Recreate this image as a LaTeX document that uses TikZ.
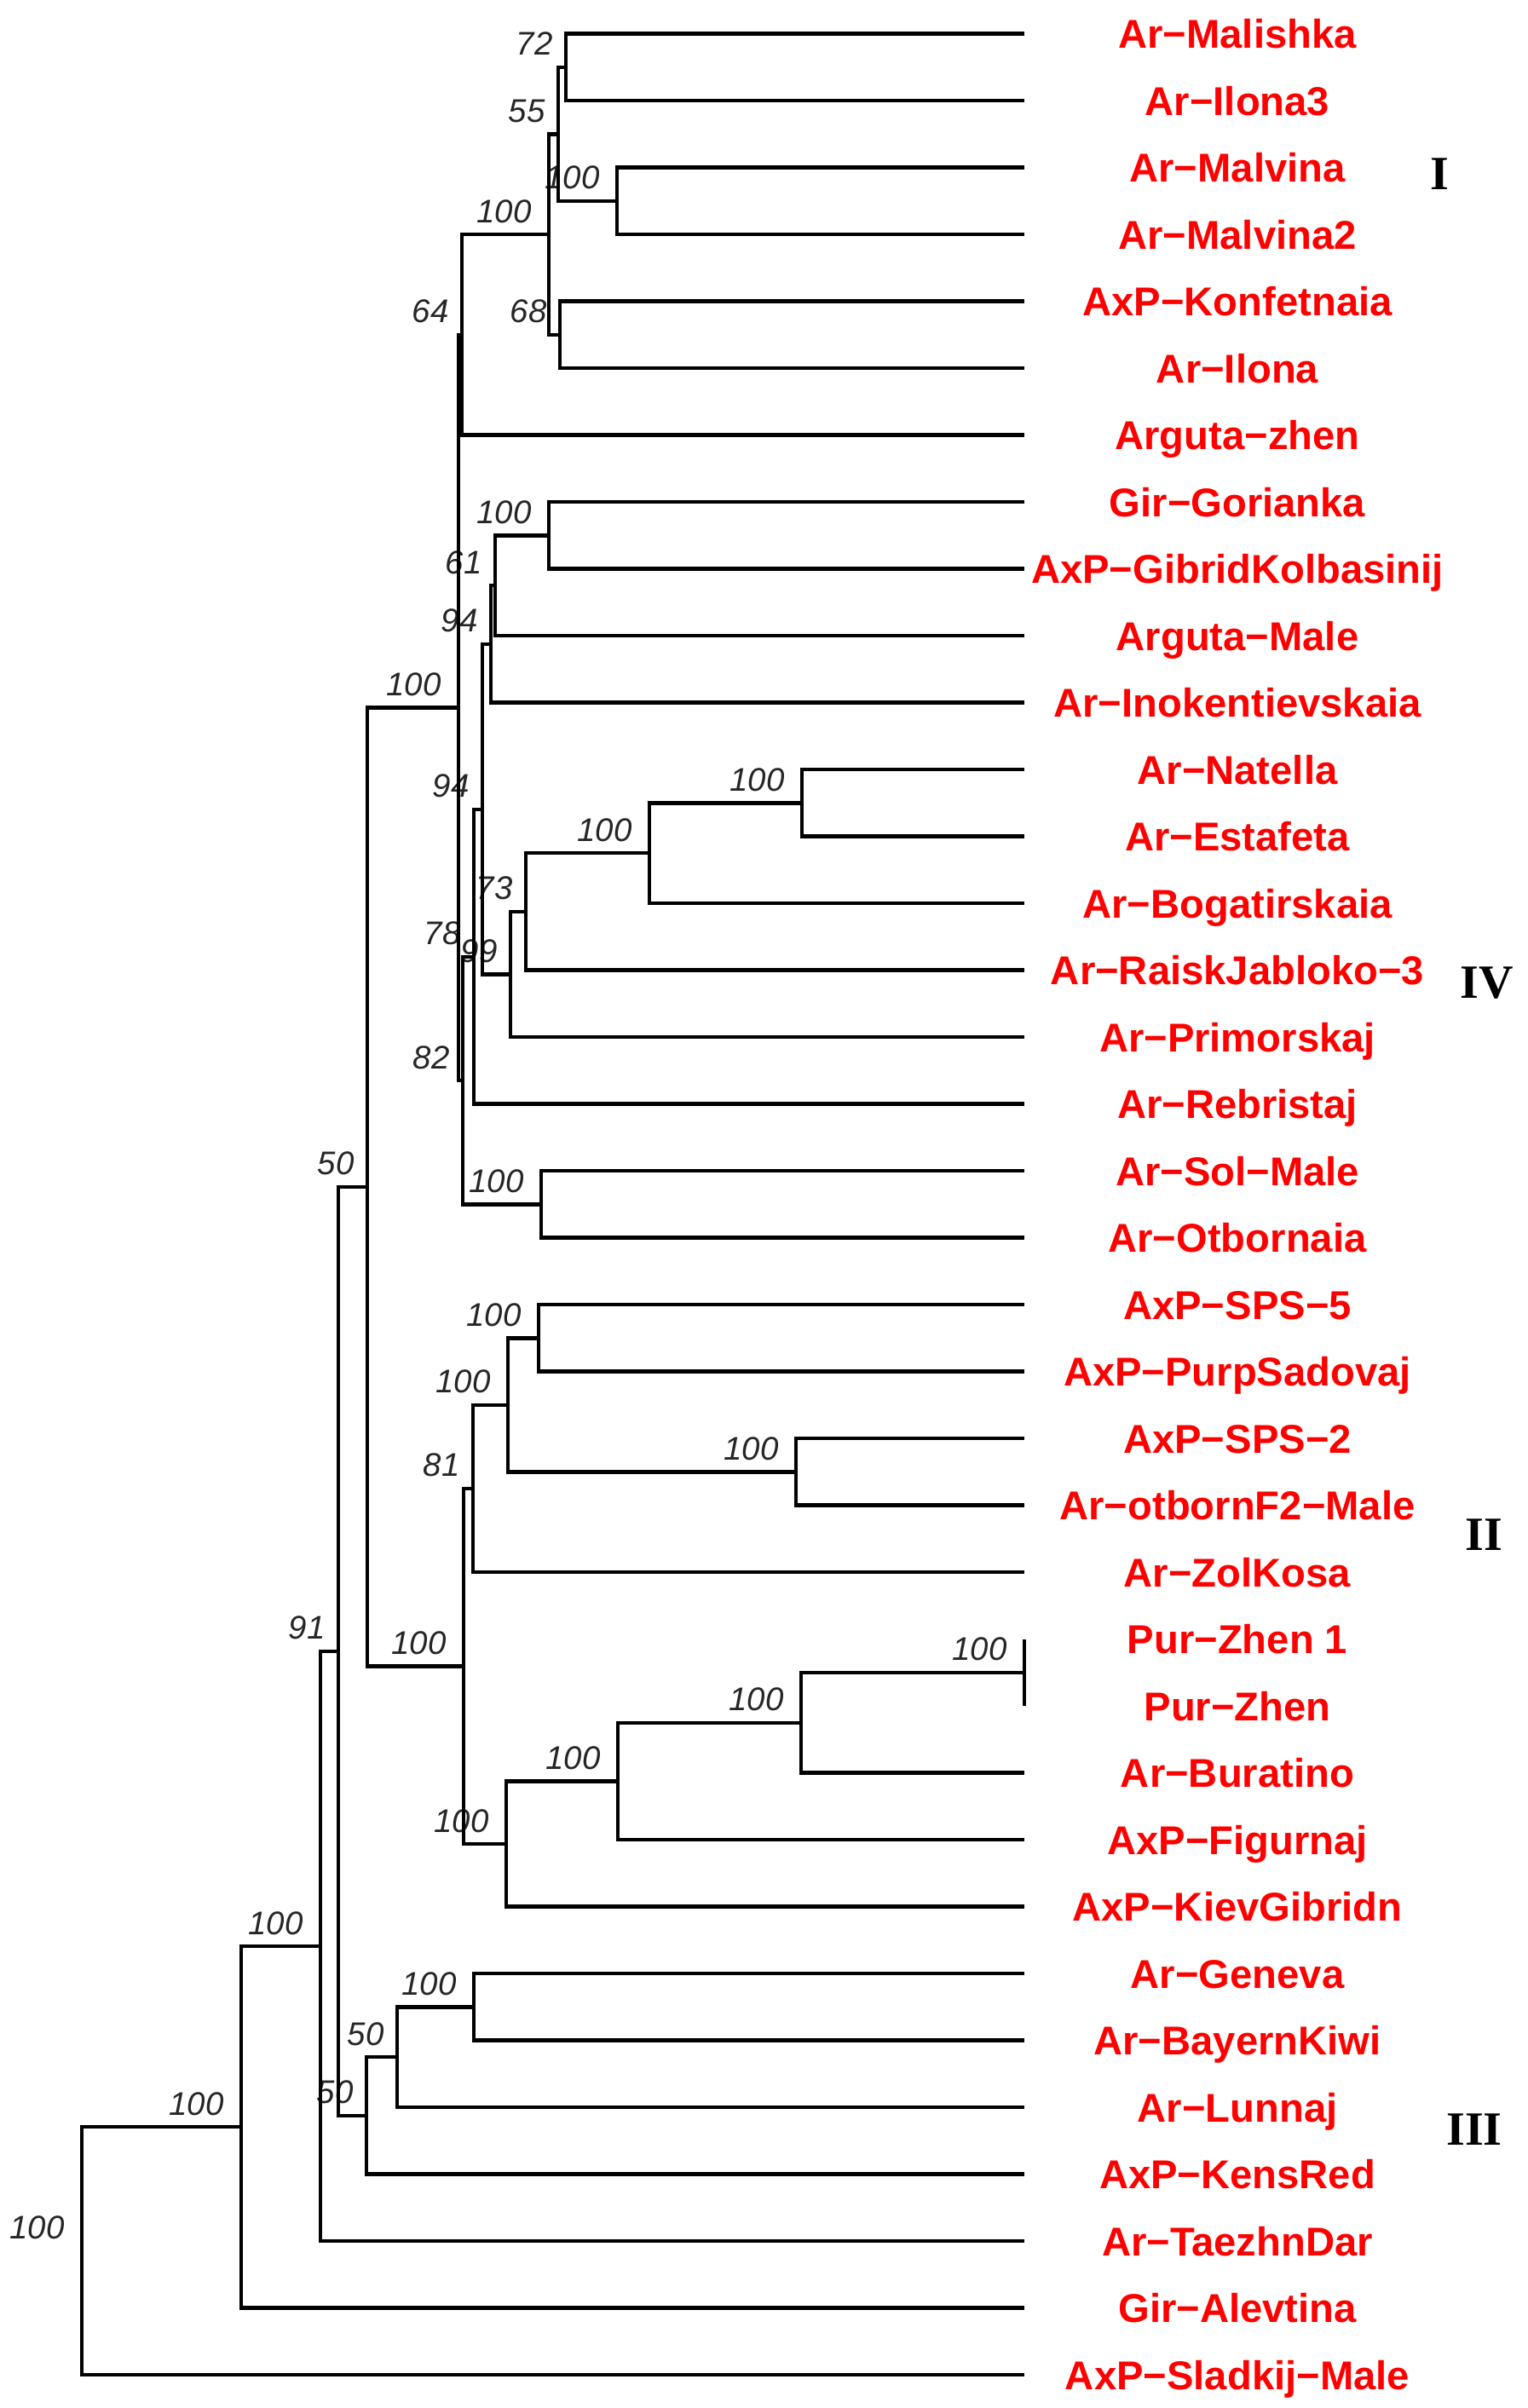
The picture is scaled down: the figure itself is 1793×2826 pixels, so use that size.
\documentclass[tikz,border=0pt]{standalone}
\usepackage{fontspec}
\setmainfont{Liberation Sans}
\newfontfamily\romfont{Liberation Serif}
\usetikzlibrary{calc}
\begin{document}
\begin{tikzpicture}[x=0.5pt,y=-0.5pt,
  br/.style={line width=2.15pt, line join=miter},
  tiplab/.style={text=red, font=\fontsize{23.6}{28}\selectfont\bfseries, anchor=base, inner sep=0pt},
  bs/.style={text=black!85, font=\fontsize{19.2}{23}\selectfont\itshape, anchor=base east, inner sep=0pt},
  grp/.style={font=\romfont\fontsize{28}{32}\selectfont\bfseries, anchor=base, inner sep=0pt}]
\useasboundingbox (0,0) rectangle (1793,2826);
% tips
\foreach \i in {0,...,35} { \coordinate (t\i) at (1202, 39.6+78.5*\i); }
% internal nodes
\coordinate (n72) at (664,78.85);
\coordinate (n100M) at (724,235.85);
\coordinate (n55) at (655,157.35);
\coordinate (n68) at (657,392.85);
\coordinate (nI) at (644,275.1);
\coordinate (n64) at (542,392.85);
\coordinate (nGG) at (644,628.35);
\coordinate (n61) at (581,687.2);
\coordinate (n94u) at (576,755.9);
\coordinate (nNE) at (941,942.35);
\coordinate (nNEB) at (762,1001.2);
\coordinate (n73) at (617,1069.9);
\coordinate (n99) at (599,1143.5);
\coordinate (n94l) at (566,949.7);
\coordinate (n78) at (556,1122.65);
\coordinate (nSO) at (635,1413.35);
\coordinate (n82) at (543,1268);
\coordinate (nIV) at (538,830.4);
\coordinate (nSPS5) at (632,1570.35);
\coordinate (nSPS2) at (934,1727.35);
\coordinate (nIIu) at (596,1648.85);
\coordinate (n81) at (555,1746.95);
\coordinate (nPur) at (1202,1962.85);
\coordinate (nPBur) at (940,2021.7);
\coordinate (nPBF) at (725,2090.4);
\coordinate (nIIl) at (594,2164);
\coordinate (nII) at (544,1955.5);
\coordinate (n50) at (431,1392.95);
\coordinate (nGB) at (556,2355.35);
\coordinate (n50a) at (466,2414.2);
\coordinate (n50b) at (430,2482.9);
\coordinate (n91) at (397,1937.9);
\coordinate (nB) at (376,2284);
\coordinate (nA) at (283,2496.3);
\coordinate (root) at (96,2641.7);
% bootstrap labels
\foreach \n/\v in {n72/72,n55/55,n68/68,n64/64,n61/61,n94u/94,n94l/94,n73/73,n99/99,n78/78,n82/82,n50/50,n81/81,n91/91,n50a/50,n50b/50}
  { \node[bs] (b\n) at ($(\n)+(-15,-14)$) {\v}; }
\foreach \n in {n100M,nI,nGG,nNE,nNEB,nSO,nIV,nSPS5,nIIu,nSPS2,nII,nPur,nPBur,nPBF,nIIl,nB,nGB,nA,root}
  { \node[bs] (b\n) at ($(\n)+(-20,-14)$) {100}; }
% tip labels
\foreach \i/\nm in {0/Ar−Malishka,1/Ar−Ilona3,2/Ar−Malvina,3/Ar−Malvina2,4/AxP−Konfetnaia,5/Ar−Ilona,6/Arguta−zhen,7/Gir−Gorianka,8/AxP−GibridKolbasinij,9/Arguta−Male,10/Ar−Inokentievskaia,11/Ar−Natella,12/Ar−Estafeta,13/Ar−Bogatirskaia,14/Ar−RaiskJabloko−3,15/Ar−Primorskaj,16/Ar−Rebristaj,17/Ar−Sol−Male,18/Ar−Otbornaia,19/AxP−SPS−5,20/AxP−PurpSadovaj,21/AxP−SPS−2,22/Ar−otbornF2−Male,23/Ar−ZolKosa,24/Pur−Zhen 1,25/Pur−Zhen,26/Ar−Buratino,27/AxP−Figurnaj,28/AxP−KievGibridn,29/Ar−Geneva,30/Ar−BayernKiwi,31/Ar−Lunnaj,32/AxP−KensRed,33/Ar−TaezhnDar,34/Gir−Alevtina,35/AxP−Sladkij−Male}
  { \node[tiplab] (L\i) at ($(t\i)+(250,17)$) {\nm}; }
% group numerals
\node[grp] (gI) at (1689,222) {I};
\node[grp] (gIV) at (1745,1171) {IV};
\node[grp] (gII) at (1741,1819) {II};
\node[grp] (gIII) at (1730,2517) {III};
% branches
\foreach \p/\c in {n72/t0,n72/t1,n100M/t2,n100M/t3,n55/n72,n55/n100M,n68/t4,n68/t5,nI/n55,nI/n68,n64/nI,n64/t6,
  nGG/t7,nGG/t8,n61/nGG,n61/t9,n94u/n61,n94u/t10,nNE/t11,nNE/t12,nNEB/nNE,nNEB/t13,n73/nNEB,n73/t14,n99/n73,n99/t15,
  n94l/n94u,n94l/n99,n78/n94l,n78/t16,nSO/t17,nSO/t18,n82/n78,n82/nSO,nIV/n64,nIV/n82,
  nSPS5/t19,nSPS5/t20,nSPS2/t21,nSPS2/t22,nIIu/nSPS5,nIIu/nSPS2,n81/nIIu,n81/t23,nPur/t24,nPur/t25,nPBur/nPur,nPBur/t26,
  nPBF/nPBur,nPBF/t27,nIIl/nPBF,nIIl/t28,nII/n81,nII/nIIl,n50/nIV,n50/nII,
  nGB/t29,nGB/t30,n50a/nGB,n50a/t31,n50b/n50a,n50b/t32,n91/n50,n91/n50b,nB/n91,nB/t33,nA/nB,nA/t34,root/nA,root/t35}
  { \draw[br] (\p) |- (\c); }
\end{tikzpicture}
\end{document}
